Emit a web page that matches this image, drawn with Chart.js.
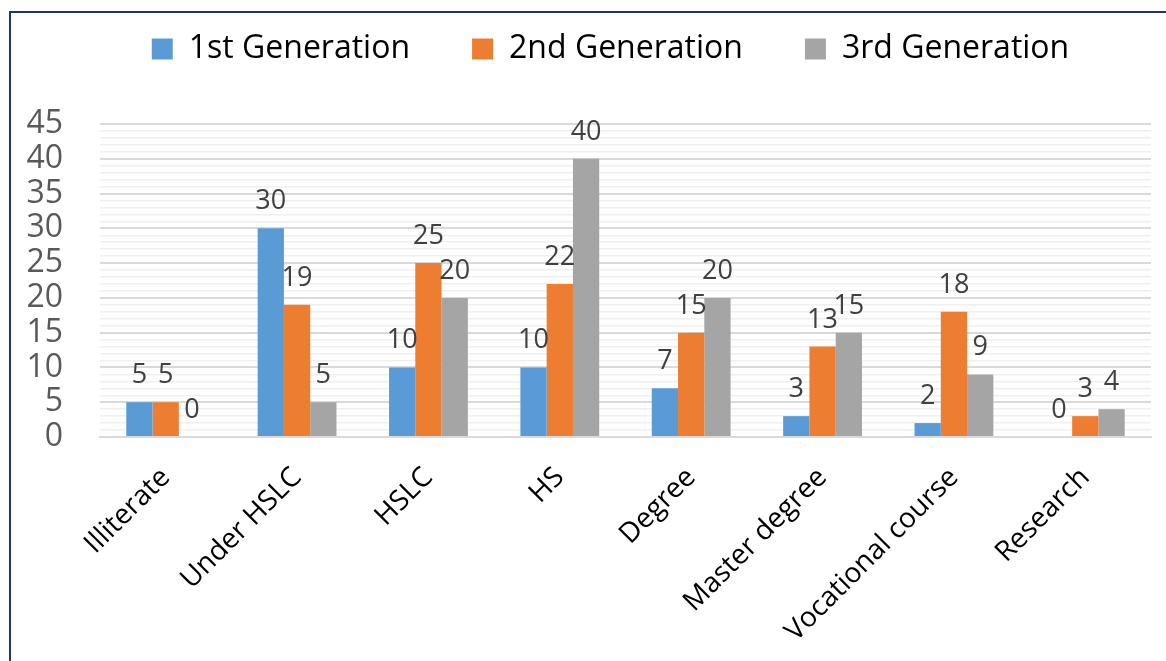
<!DOCTYPE html>
<html>
<head>
<meta charset="utf-8">
<script src="https://cdn.jsdelivr.net/npm/chart.js@4.4.1/dist/chart.umd.min.js"></script>
<style>
  html, body { margin: 0; padding: 0; background: #fff; overflow: hidden; }
  #frame {
    position: absolute; left: 9px; top: 11px;
    width: 1200px; height: 700px;
    border: 2px solid #203864;
  }
  #wrap { position: absolute; left: 0; top: 0; width: 1166px; height: 661px; }
</style>
</head>
<body>
<div id="frame"></div>
<div id="wrap"><canvas id="grafico"></canvas></div>
<script>
// categorias e valores
const categorias = ["Illiterate", "Under HSLC", "HSLC", "HS", "Degree", "Master degree", "Vocational course", "Research"];
const series = ["1st Generation", "2nd Generation", "3rd Generation"];
const gen1 = [5, 30, 10, 10, 7, 3, 2, 0];
const gen2 = [5, 19, 25, 22, 15, 13, 18, 3];
const gen3 = [0, 5, 20, 40, 20, 15, 9, 4];
const cores = ['#5B9BD5', '#ED7D31', '#A5A5A5'];

// rótulos de valor em cima das barras
const rotulos = {
  id: 'rotulos',
  afterDatasetsDraw(chart) {
    const ctx = chart.ctx;
    ctx.save();
    ctx.font = '27px "Open Sans"';
    ctx.fillStyle = '#404040';
    ctx.textAlign = 'center';
    ctx.textBaseline = 'alphabetic';
    chart.data.datasets.forEach((ds, i) => {
      chart.getDatasetMeta(i).data.forEach((bar, j) => {
        ctx.fillText(ds.data[j], bar.x, bar.y - 19);
      });
    });
    ctx.restore();
  }
};

// espaço entre a legenda e o gráfico, e legenda um pouco à direita
const ajusteLegenda = {
  id: 'ajusteLegenda',
  beforeInit(chart) {
    const fitOriginal = chart.legend.fit;
    chart.legend.fit = function () {
      fitOriginal.call(this);
      this.height = 153;
    };
  },
  afterLayout(chart) {
    chart.legend.left += 30;
    chart.legend.right += 30;
  }
};

const ctx = document.getElementById('grafico').getContext('2d');
new Chart(ctx, {
  type: 'bar',
  data: {
    labels: categorias,
    datasets: [
      { label: series[0], data: gen1, backgroundColor: cores[0] },
      { label: series[1], data: gen2, backgroundColor: cores[1] },
      { label: series[2], data: gen3, backgroundColor: cores[2] }
    ]
  },
  options: {
    responsive: true,
    maintainAspectRatio: false,
    animation: false,
    layout: { padding: { left: 10, right: 15, top: -29, bottom: 0 } },
    datasets: {
      bar: { categoryPercentage: 0.6, barPercentage: 1.0, borderWidth: 0 }
    },
    scales: {
      x: {
        grid: { display: false, drawTicks: false },
        border: { color: '#d9d9d9', width: 2 },
        ticks: {
          color: '#000',
          font: { family: 'Open Sans', size: 28 },
          minRotation: 45,
          maxRotation: 45,
          autoSkip: false,
          padding: 24
        },
        afterFit: (scale) => { scale.height = 224; }
      },
      y: {
        min: 0,
        max: 45,
        border: { display: false },
        grid: {
          drawTicks: false,
          color: (c) => (c.tick.value % 5 === 0 ? '#d9d9d9' : '#efefef'),
          lineWidth: (c) => (c.tick.value % 5 === 0 ? 2 : 1.5)
        },
        ticks: {
          stepSize: 1,
          autoSkip: false,
          color: '#595959',
          font: { family: 'Open Sans', size: 32 },
          padding: 37,
          callback: (v) => (v % 5 === 0 ? String(v) : '')
        },
        afterFit: (scale) => { scale.width = 90; }
      }
    },
    plugins: {
      legend: {
        position: 'top',
        labels: {
          color: '#000',
          font: { family: 'Open Sans', size: 32 },
          boxWidth: 21,
          boxHeight: 21,
          padding: 62
        }
      },
      tooltip: { enabled: false }
    }
  },
  plugins: [rotulos, ajusteLegenda]
});
</script>
</body>
</html>
